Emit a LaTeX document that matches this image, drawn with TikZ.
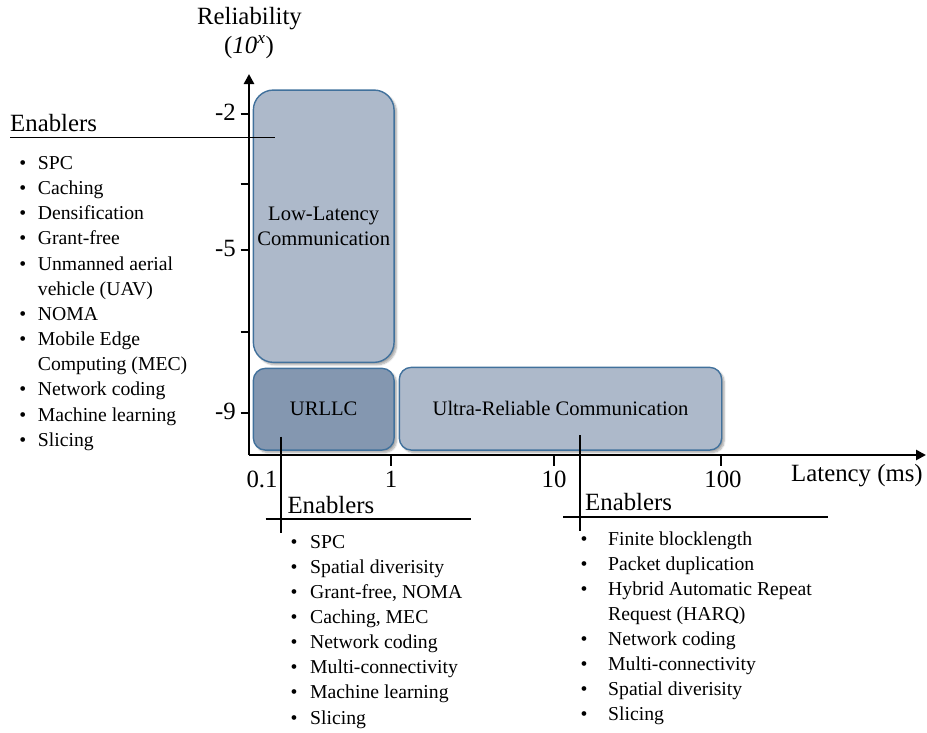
\documentclass[tikz,border=0pt]{standalone}
\usepackage{fontspec}
\setmainfont{Liberation Serif}
\usetikzlibrary{arrows.meta,shadows.blur}

\definecolor{boxfill}{HTML}{ADB9CA}
\definecolor{darkfill}{HTML}{8497B0}
\definecolor{boxline}{HTML}{41719C}

\tikzset{
  axisline/.style={line width=2.8pt, -{Triangle[length=10pt,width=10pt]}},
  tickmark/.style={line width=2.8pt},
  big/.style={inner sep=0, font=\fontsize{24.8}{29}\selectfont},
  rulerline/.style={line width=1.8pt},
  region/.style={draw=boxline, line width=1.4pt, fill=boxfill, align=center,
    inner sep=0, outer sep=0, font=\fontsize{20.6}{25}\selectfont,
    blur shadow={shadow xshift=2.5pt, shadow yshift=-2.5pt, shadow blur steps=6, shadow opacity=35}},
  itemtext/.style={anchor=base west, inner sep=0, font=\fontsize{19.7}{23}\selectfont},
  bul/.style={anchor=base, inner sep=0, font=\fontsize{19.7}{23}\selectfont},
}

\begin{document}
\begin{tikzpicture}[x=1pt, y=-1pt]
\useasboundingbox (0,0) rectangle (927,732);

% regions of the latency / reliability plane
\node[region, rounded corners=20pt, minimum width=140.7pt, minimum height=272.3pt]
  (ll) at (323.7,226.2) {Low-Latency\\Communication};
\node[region, fill=darkfill, rounded corners=12pt, minimum width=140.7pt, minimum height=81.7pt]
  (urllc) at (323.7,409.2) {URLLC};
\node[region, rounded corners=12pt, minimum width=322.4pt, minimum height=82.7pt]
  (urc) at (560.5,408.7) {Ultra-Reliable Communication};

% axes
\coordinate (O) at (249,455);
\coordinate (ytip) at (249,74);
\coordinate (xtip) at (926,455);
\draw[axisline] (O) -- (ytip);
\draw[axisline] (O) -- (xtip);

% y ticks and labels
\foreach \y/\lab [count=\i] in {114/-2, 184/, 250/-5, 332/, 413/-9} {
  \coordinate (yt\i) at (240.5,\y);
  \coordinate (ya\i) at (249,\y);
  \draw[tickmark] (yt\i) -- (ya\i);
  \node[big, anchor=east] (yl\i) at (236,\y-1.5) {\lab};
}

% x ticks and labels
\foreach \x/\lab [count=\i] in {391/1, 554/10, 721/100} {
  \coordinate (xa\i) at (\x,455);
  \coordinate (xt\i) at (\x,466);
  \draw[tickmark] (xa\i) -- (xt\i);
}
\node[big, anchor=base] (x0) at (262,487) {0.1};
\node[big, anchor=base] (x1) at (391,487) {1};
\node[big, anchor=base] (x2) at (554,487) {10};
\node[big, anchor=base] (x3) at (723,487) {100};
\node[big, anchor=base west] (xlab) at (791,481) {Latency (ms)};

% y axis title
\node[big, anchor=base] (ylab) at (249.5,24) {Reliability};
\node[big, anchor=base] (yunit) at (249,53) {(\textit{10}\textsuperscript{\textit{x}})};

% enablers of low latency
\node[big, anchor=base west] (enl) at (10,131) {Enablers};
\coordinate (enlA) at (10,137.5);
\coordinate (enlB) at (275,137.5);
\draw[rulerline] (enlA) -- (enlB);
\foreach \b/\t [count=\i from 0] in {1/SPC, 1/Caching, 1/Densification, 1/Grant-free,
    1/Unmanned aerial, 0/vehicle (UAV), 1/NOMA, 1/Mobile Edge, 0/Computing (MEC),
    1/Network coding, 1/Machine learning, 1/Slicing} {
  \node[itemtext] (left\i) at (37.7,169.3+25.18*\i) {\t};
  \ifnum\b=1 \node[bul] (leftb\i) at (22.7,169.3+25.18*\i) {\textbullet}; \fi
}

% enablers of URLLC
\coordinate (emTop) at (280.7,436.7);
\coordinate (emBot) at (280.7,532.7);
\draw[rulerline] (emTop) -- (emBot);
\coordinate (emA) at (265.7,519);
\coordinate (emB) at (471,519);
\draw[rulerline] (emA) -- (emB);
\node[big, anchor=base west] (enm) at (287.3,513.3) {Enablers};
\foreach \t [count=\i from 0] in {SPC, Spatial diverisity, {Grant-free, NOMA}, {Caching, MEC},
    Network coding, Multi-connectivity, Machine learning, Slicing} {
  \node[itemtext] (mid\i) at (310,548.3+25.1*\i) {\t};
  \node[bul] (midb\i) at (294,548.3+25.1*\i) {\textbullet};
}

% enablers of ultra-reliability
\coordinate (erTop) at (580.2,435);
\coordinate (erBot) at (580.2,530.7);
\draw[rulerline] (erTop) -- (erBot);
\coordinate (erA) at (563.3,516.7);
\coordinate (erB) at (828.3,516.7);
\draw[rulerline] (erA) -- (erB);
\node[big, anchor=base west] (enr) at (585,510) {Enablers};
\foreach \b/\t [count=\i from 0] in {1/Finite blocklength, 1/Packet duplication,
    1/Hybrid Automatic Repeat, 0/Request (HARQ), 1/Network coding, 1/Multi-connectivity,
    1/Spatial diverisity, 1/Slicing} {
  \node[itemtext] (right\i) at (608,545+25.1*\i) {\t};
  \ifnum\b=1 \node[bul] (rightb\i) at (584,545+25.1*\i) {\textbullet}; \fi
}
\end{tikzpicture}
\end{document}
